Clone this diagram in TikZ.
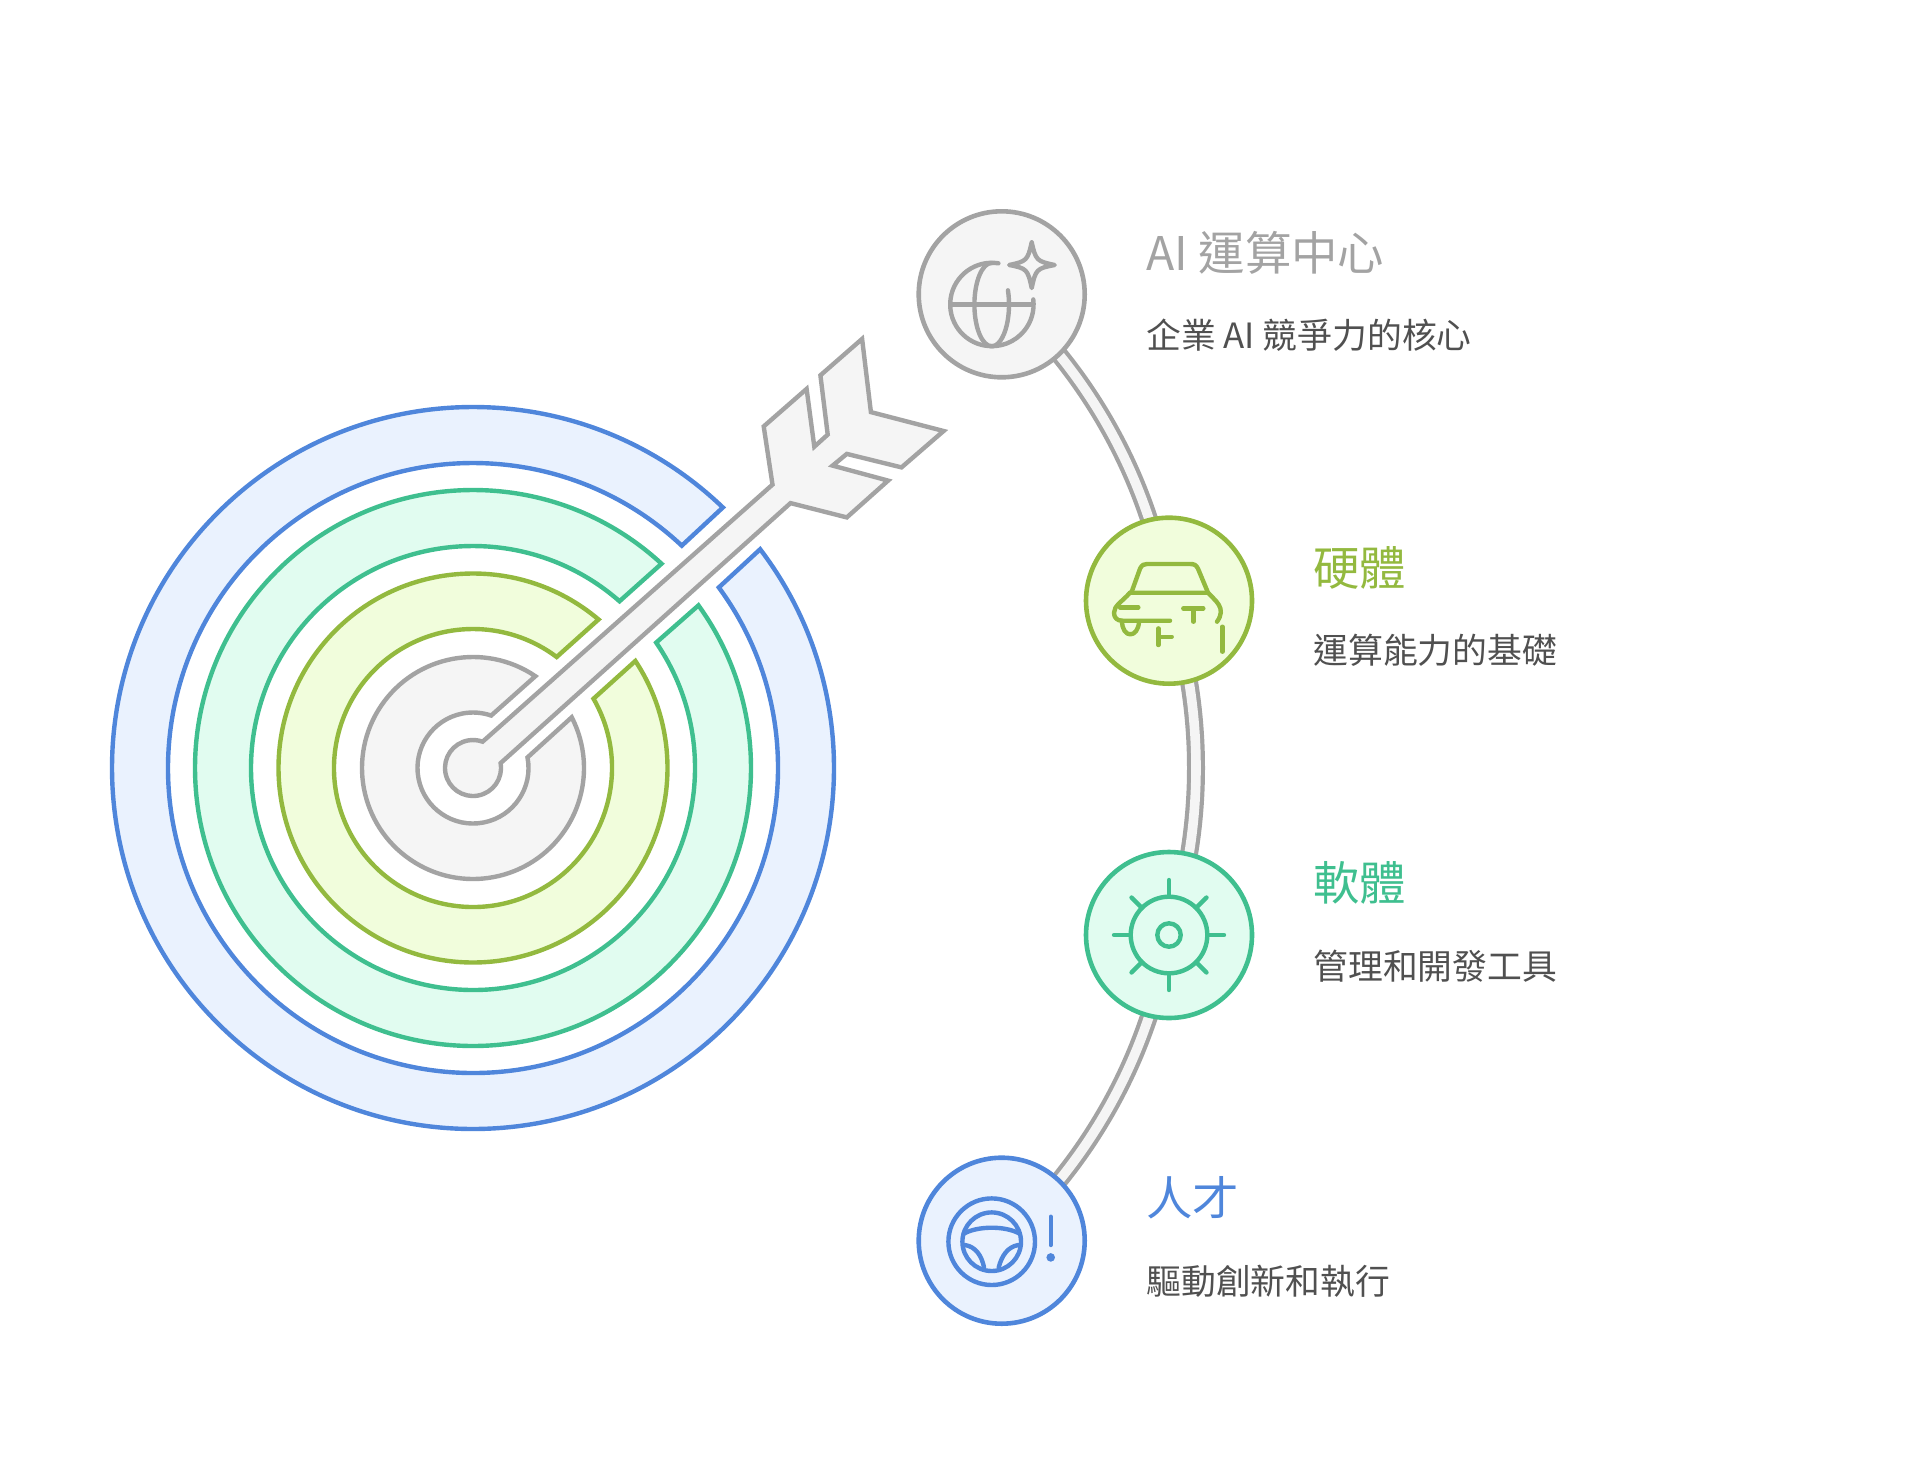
\documentclass[tikz,border=0pt]{standalone}
\usepackage{fontspec}
\setmainfont{Noto Sans CJK TC}
\usetikzlibrary{backgrounds}
\definecolor{lineblue}{HTML}{4F86DB}
\definecolor{fillblue}{HTML}{EAF2FE}
\definecolor{linegreen}{HTML}{3FBF8F}
\definecolor{fillgreen}{HTML}{E1FCF0}
\definecolor{linelime}{HTML}{93B93F}
\definecolor{filllime}{HTML}{F1FDDC}
\definecolor{linegray}{HTML}{A3A3A3}
\definecolor{fillgray}{HTML}{F5F5F5}
\definecolor{subtext}{HTML}{505050}

\begin{document}
\begin{tikzpicture}[
        x=0.5pt, y=-0.5pt,
        % Node styles
        badge/.style={circle, draw=line#1, fill=fill#1, line width=2.3pt, minimum size=83pt, inner sep=0pt},
        headline/.style={anchor=base west, inner sep=0pt, text=line#1, font=\fontsize{23.2}{27}\selectfont},
        subline/.style={anchor=base west, inner sep=0pt, text=subtext, font=\fontsize{17.4}{21}\selectfont},
        % Shape styles
        ring/.style={line width=2.2pt, line join=miter, draw=line#1, fill=fill#1},
        icon/.style={draw=line#1, line width=2.2pt, line cap=round, line join=round},
        rail/.style={draw=linegray, line width=2.1pt, double=fillgray, double distance=4.8pt},
    ]
    \useasboundingbox (0,0) rectangle (1920,1472);

    % Badges and their texts
    \foreach \id/\bx/\by/\tx/\hy/\sy/\tone/\head/\sub in {
        AI/1001.7/294.3/1146/270/348.5/gray/{AI 運算中心}/{企業 AI 競爭力的核心},
        HW/1169/600.7/1313/585.3/663.8/lime/{硬體}/{運算能力的基礎},
        SW/1169/935/1313/900.6/979.1/green/{軟體}/{管理和開發工具},
        HR/1001.7/1240.7/1146/1215.9/1294.4/blue/{人才}/{驅動創新和執行}} {
        \node[badge=\tone] (\id) at (\bx,\by) {};
        \node[headline=\tone] (head\id) at (\tx,\hy) {\head};
        \node[subline] (sub\id) at (\tx,\sy) {\sub};
    }

    % Rail behind the badges
    \begin{scope}[on background layer]
        \draw[rail] (AI.center) to[bend left=19.5, looseness=0.877] (HW.center);
        \draw[rail] (HW.center) to[bend left=18.5, looseness=0.87] (SW.center);
        \draw[rail] (SW.center) to[bend left=19.5, looseness=0.877] (HR.center);
    \end{scope}

    % Target rings, cut open along the arrow
    \begin{scope}[shift={(473,768)}]
        \foreach \rout/\rin/\aoa/\aia/\aob/\aib/\tone in {
            361/305/46.2/46.8/37.3/36.3/blue,
            278/222/47.3/48.7/35.8/34.4/green,
            194.5/139/49.8/53/33.4/29.9/lime,
            111/55.5/55.8/70.9/27.2/11/gray} {
            \draw[ring=\tone] (-\aoa:\rout) arc (-\aoa:-360-\aob:\rout)
                -- (-360-\aib:\rin) arc (-360-\aib:-\aia:\rin) -- cycle;
        }

        % Arrow with its round tip
        \draw[ring=gray] (-10:28) arc (-10:290:28)
            -- (299.5,-283.4) -- (290.7,-341.6) -- (333.6,-379.1) -- (341.3,-321.3)
            -- (354.7,-333.4) -- (347.4,-392.7) -- (389.1,-429.1) -- (397.9,-355.9)
            -- (470.6,-337) -- (428.5,-300.6) -- (373.8,-314.1) -- (359.6,-302.4)
            -- (415.1,-287.4) -- (373.8,-250.6) -- (317.5,-264.9) -- cycle;
    \end{scope}

    % Globe and star
    \begin{scope}[shift={(AI.center)}, icon=gray]
        \draw (-3.3,-31) arc (-81:-367:41.7);
        \draw (-51,10.3) -- (31,10.3);
        \draw (-10,-31.4) arc (-90:-380:17.3 and 41.7);
        \draw (30,-52) .. controls (34,-34) and (35,-33) .. (53,-29.3)
            .. controls (35,-26) and (34,-25) .. (30,-6.3)
            .. controls (26,-25) and (25,-26) .. (7.5,-29.3)
            .. controls (25,-33) and (26,-34) .. (30,-52);
    \end{scope}

    % Car
    \begin{scope}[shift={(HW.center)}, icon=lime]
        \draw (-37.3,-9) -- (-29,-32) .. controls (-27,-36) and (-25,-36.7) .. (-22,-36.7)
            -- (21,-36.7) .. controls (25,-36.7) and (27,-36) .. (29,-32) -- (39,-8);
        \draw (-39,-8) -- (39,-8) .. controls (46,0) and (58,7) .. (48,21);
        \draw (-39,-8) .. controls (-47,1) and (-55,5) .. (-55,12)
            .. controls (-55,17) and (-52,20) .. (-47,20) -- (1,20);
        \draw (-49,6.7) -- (-30.7,6.7);
        \draw (-47,20) .. controls (-47,38) and (-31,38) .. (-30,21);
        \draw (14.3,7.7) -- (34.3,7.7) (24.3,7.7) -- (24.3,21);
        \draw (53.3,26) -- (53.3,51);
        \draw (-10.7,27.7) -- (-10.7,44.3) (-10.7,36) -- (2.7,36);
    \end{scope}

    % Gear
    \begin{scope}[shift={(SW.center)}, icon=green]
        \draw (0,0) circle (11.7);
        \draw (0,0) circle (38.3);
        \foreach \a/\len in {0/55, 45/53, 90/55, 135/53, 180/55, 225/53, 270/55, 315/53} {
            \draw (\a:38.3) -- (\a:\len);
        }
    \end{scope}

    % Steering wheel and warning mark
    \begin{scope}[shift={(HR.center)}, icon=blue]
        \draw (-10,1) circle (43.3);
        \draw (-10,1) circle (29.3);
        \draw (-38,-7) .. controls (-24,-15) and (4,-15) .. (18,-7);
        \draw (-36.7,4.3) .. controls (-26,6) and (-20,15) .. (-17.7,26.7);
        \draw (16.7,4.3) .. controls (6,6) and (0,15) .. (-3,26.7);
        \draw (49,-24) -- (49,4.3);
        \fill[lineblue] (49,16.7) circle (4.3);
    \end{scope}
\end{tikzpicture}
\end{document}
